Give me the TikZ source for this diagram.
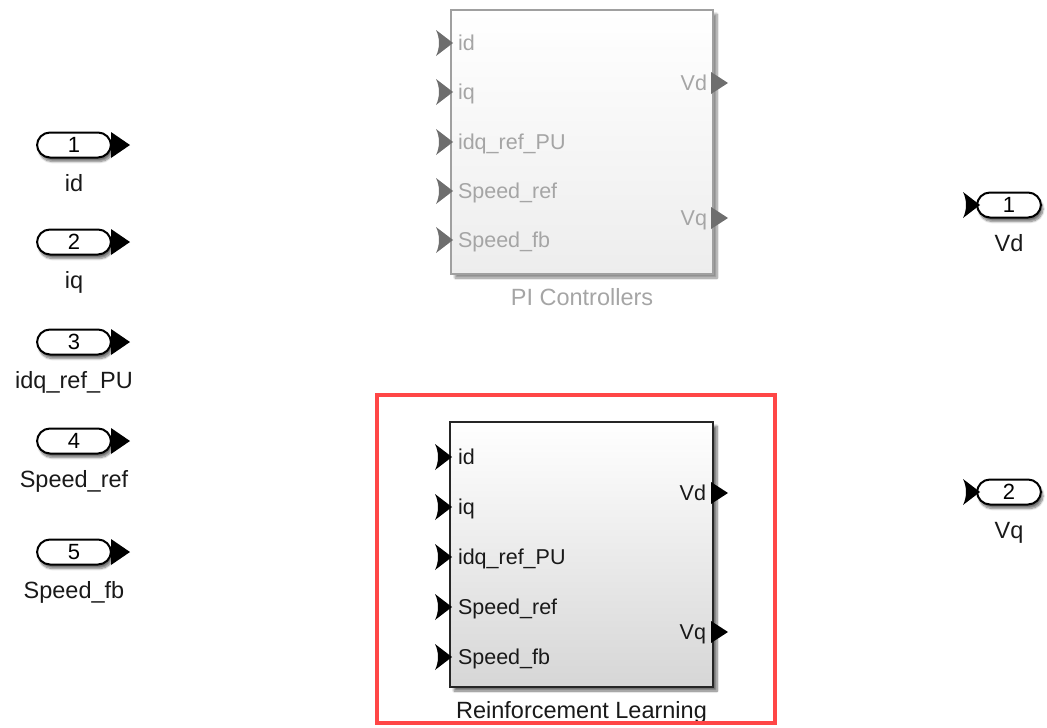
\documentclass[tikz,border=0pt]{standalone}
\usepackage{fontspec}
\setmainfont{Liberation Sans}
\usetikzlibrary{shadows,shadows.blur,calc}
\definecolor{txt}{RGB}{25,25,25}
\definecolor{pitxt}{RGB}{165,165,165}
\definecolor{piedge}{RGB}{160,160,160}
\definecolor{piport}{RGB}{110,110,110}
\definecolor{selred}{RGB}{255,70,70}
\newcommand\inchev[3]{% tip at (#1,#2)
  \fill[#3] (#1-16,#2-13) -- (#1+1,#2) -- (#1-16,#2+13)
    .. controls (#1-12,#2+5) and (#1-12,#2-5) .. (#1-16,#2-13) -- cycle;}
\newcommand\pillarrow[2]{% tip at (#1,#2)
  \fill[black] (#1-19,#2-13) -- (#1,#2) -- (#1-19,#2+13) -- cycle;}
\newcommand\outchev[3]{% base at (#1,#2)
  \fill[#3] (#1-2,#2-11) -- (#1+15,#2) -- (#1-2,#2+11) -- cycle;}
\begin{document}
\begin{tikzpicture}[x=1pt,y=-1pt,
  every node/.style={inner sep=0pt,outer sep=0pt},
  plbl/.style={font=\fontsize{21.5}{24}\selectfont,text=txt},
  nlbl/.style={font=\fontsize{23.5}{26}\selectfont,text=txt},
  pill/.style={draw=black,line width=2pt,fill=white,rounded corners=13pt,
    minimum width=74pt,minimum height=25pt,font=\fontsize{22}{24}\selectfont,
    blur shadow={shadow xshift=2pt,shadow yshift=-4pt,shadow blur steps=8,shadow opacity=55}},
  blockbox/.style={anchor=north west,line width=1.8pt,
    blur shadow={shadow xshift=4pt,shadow yshift=-4pt,shadow blur steps=8,shadow opacity=55}}]
\useasboundingbox (0,0) rectangle (1047,728);

% ---- inports ----
\foreach \n/\yy/\lab in {1/145/id,2/242/iq,3/342/idq\_ref\_PU,4/441/Speed\_ref,5/552/Speed\_fb}{
  \node[pill] (in\n) at (74,\yy) {\n};
  \pillarrow{130}{\yy}
  \node[nlbl,anchor=base] (inlbl\n) at (74,\yy+46) {\lab};
}

% ---- outports ----
\foreach \n/\yy/\lab in {1/205/Vd,2/492/Vq}{
  \node[pill,minimum width=64pt] (out\n) at (1009,\yy) {\n};
  \inchev{979}{\yy}{black}
  \node[nlbl,anchor=base] (outlbl\n) at (1009,\yy+46) {\lab};
}

% ---- PI Controllers (greyed) ----
\node[blockbox,draw=piedge,top color=white,bottom color=black!7,
  minimum width=262pt,minimum height=264pt,
  blur shadow={shadow xshift=4pt,shadow yshift=-4pt,shadow blur steps=8,shadow opacity=25}] (pi) at (451,10) {};
\foreach \yy/\lab in {43/id,92/iq,142/idq\_ref\_PU,191/Speed\_ref,240/Speed\_fb}{
  \inchev{452}{\yy}{piport}
  \node[plbl,text=pitxt,anchor=base west] (pin\yy) at (458,\yy+7.5) {\lab};
}
\foreach \yy/\lab in {83/Vd,218/Vq}{
  \outchev{713}{\yy}{piport}
  \node[plbl,text=pitxt,anchor=base east] (pout\yy) at (707,\yy+7.5) {\lab};
}
\node[nlbl,text=pitxt,anchor=base] (pilbl) at (582,305) {PI Controllers};

% ---- Reinforcement Learning ----
\node[blockbox,draw=black!85,top color=white,bottom color=black!16,
  minimum width=263pt,minimum height=265pt] (rl) at (450,422) {};
\foreach \yy/\lab in {457/id,507/iq,557/idq\_ref\_PU,607/Speed\_ref,657/Speed\_fb}{
  \inchev{451}{\yy}{black}
  \node[plbl,anchor=base west] (rin\yy) at (458,\yy+7.5) {\lab};
}
\foreach \yy/\lab in {493/Vd,632/Vq}{
  \outchev{713}{\yy}{black}
  \node[plbl,anchor=base east] (rout\yy) at (706,\yy+7.5) {\lab};
}
\node[nlbl,anchor=base] (rllbl) at (581.5,718) {Reinforcement Learning};

% ---- selection highlight ----
\node[draw=selred,line width=4pt,minimum width=398pt,minimum height=328pt] (sel) at (576,559) {};
\end{tikzpicture}
\end{document}
